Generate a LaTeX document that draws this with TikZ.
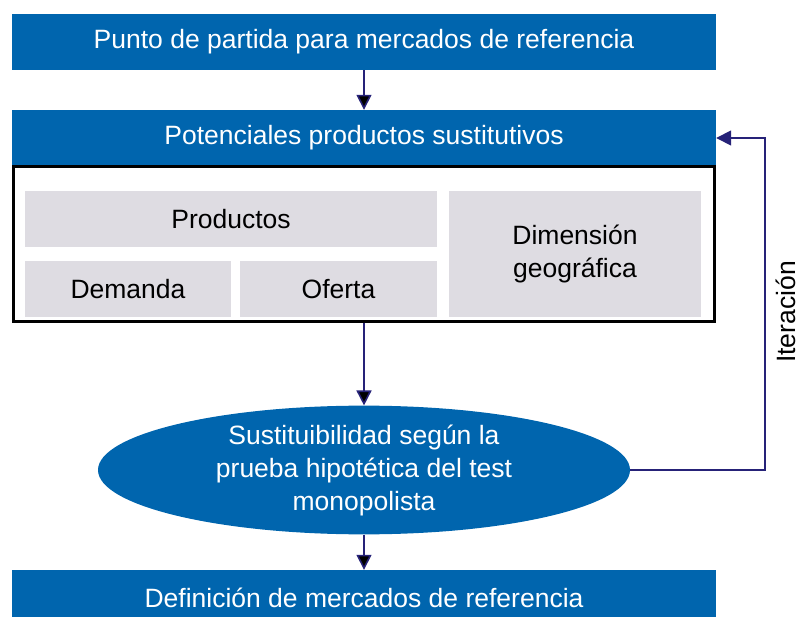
\documentclass[tikz,border=0pt]{standalone}
\usepackage{fontspec}
\setmainfont{Liberation Sans}
\usetikzlibrary{shapes,positioning,arrows.meta}
\definecolor{barblue}{RGB}{0,101,174}
\definecolor{cellgray}{RGB}{222,220,226}
\definecolor{arrownavy}{RGB}{38,34,120}

\begin{document}
\begin{tikzpicture}[x=1pt,y=-1pt,font=\fontsize{26.5}{32}\selectfont,
    bar/.style={rectangle,fill=barblue,text=white,minimum width=704pt,minimum height=56pt,inner sep=0pt},
    cell/.style={rectangle,fill=cellgray,inner sep=0pt,align=center,minimum height=56pt},
    frame/.style={rectangle,draw=black,line width=2.5pt,minimum width=701pt,minimum height=155pt,inner sep=0pt},
    flow/.style={draw=arrownavy,line width=1.6pt,-{Triangle[length=15pt,width=15pt]}}]
  \useasboundingbox (0,0) rectangle (801,617);
  \node[bar] (start) at (364,42) {Punto de partida para mercados de referencia};
  \node[bar] (candidates) at (364,138) {Potenciales productos sustitutivos};
  \node[frame] (frame) at (364,244) {};
  \node[cell,minimum width=412pt] (products) at (231,219) {Productos};
  \node[cell,minimum width=206pt] (demand) at (128,289) {Demanda};
  \node[cell,minimum width=197pt] (supply) at (338.5,289) {Oferta};
  \node[cell,minimum width=252pt,minimum height=126pt,font=\fontsize{26.5}{33}\selectfont] (geo) at (575,254) {Dimensión\\geográfica};
  \node[ellipse,fill=barblue,text=white,minimum width=532pt,minimum height=124pt,inner sep=0pt,align=center,font=\fontsize{26.5}{33}\selectfont] (test) at (364,470) {Sustituibilidad según la\\prueba hipotética del test\\monopolista};
  \node[bar] (final) at (364,598) {Definición de mercados de referencia};
  \path[flow]
    (start) edge (candidates)
    (frame) edge (test)
    (test) edge (final);
  \draw[flow] (test.east) -- ++(135,0) |- (candidates.east);
  \node[rotate=90] (iter) at (786,312) {Iteración};
\end{tikzpicture}
\end{document}
